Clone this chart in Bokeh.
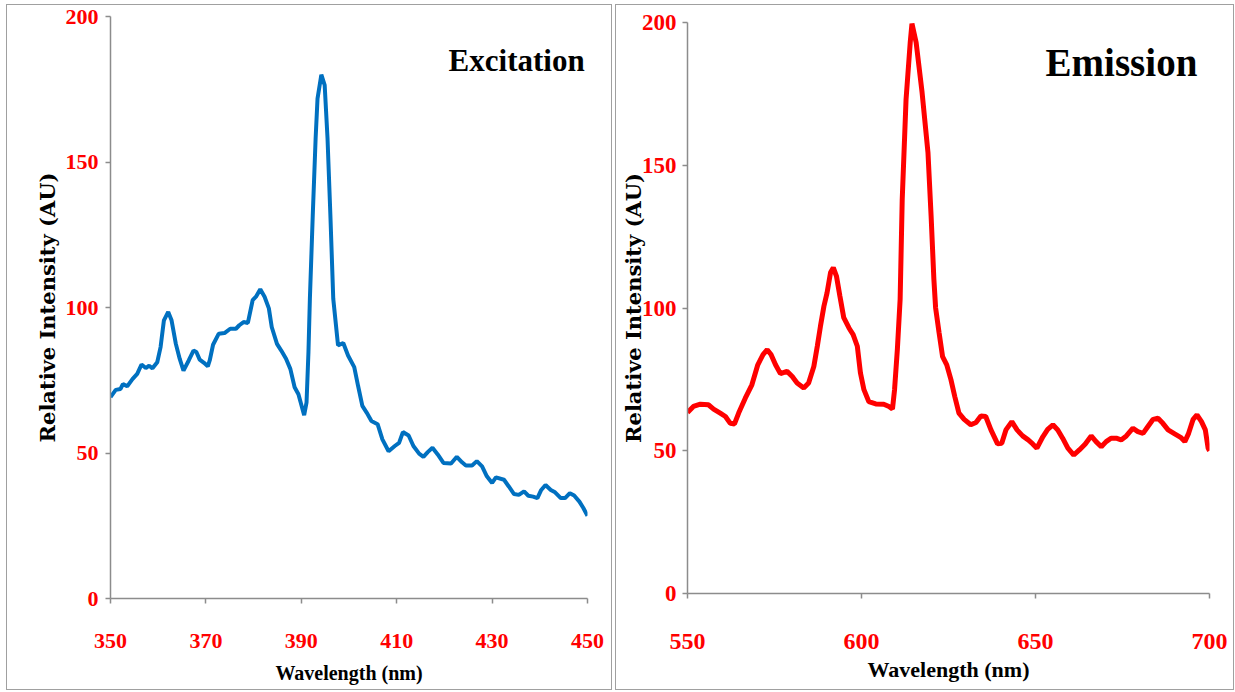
from bokeh.plotting import figure
from bokeh.layouts import row, column, Spacer
from bokeh.models import Range1d, Label, FixedTicker
from bokeh.embed import file_html
from bokeh.resources import INLINE

# ---------------- data ----------------
exc_wl = [350.0, 351.1, 352.1, 352.6, 353.5, 354.6, 355.6, 356.5, 357.4, 358.1, 358.8, 359.8,
          360.5, 361.2, 362.1, 362.8, 363.7, 364.5, 365.3, 366.4, 367.4, 368.0, 368.7, 369.6,
          370.4, 370.8, 371.5, 372.7, 373.9, 375.1, 376.3, 377.0, 377.9, 378.8, 379.8, 380.5,
          381.4, 382.3, 383.2, 383.8, 384.9, 385.8, 386.8, 387.7, 388.6, 389.4, 390.6, 391.1,
          391.5, 391.8, 392.4, 393.0, 393.4, 394.2, 394.9, 395.5, 396.1, 396.7, 397.7, 398.8,
          399.8, 401.1, 401.9, 402.8, 403.7, 404.7, 406.0, 407.0, 408.3, 409.6, 410.5, 411.3,
          412.5, 413.5, 414.7, 415.6, 416.5, 417.5, 418.6, 419.8, 421.4, 422.6, 423.7, 424.5,
          425.8, 426.8, 427.9, 428.9, 430.0, 430.8, 432.5, 433.5, 434.6, 435.6, 436.7, 437.6,
          438.6, 439.5, 440.3, 441.2, 442.3, 443.2, 444.4, 445.3, 446.3, 447.2, 448.3, 449.1,
          450.0]
exc_int = [69.2, 71.7, 72.0, 73.7, 72.9, 75.4, 77.2, 80.4, 79.2, 80.0, 79.1, 81.2,
           86.4, 95.6, 98.5, 95.6, 87.5, 82.4, 78.3, 81.8, 85.2, 84.7, 82.1, 81.0,
           79.8, 81.8, 87.2, 91.0, 91.2, 92.7, 92.7, 93.9, 95.0, 94.7, 102.5, 103.7,
           106.3, 103.7, 99.7, 93.3, 87.5, 85.2, 82.4, 78.9, 72.6, 70.2, 63.0, 67.4,
           84.7, 103.0, 131.6, 158.0, 171.8, 180.0, 176.4, 158.0, 131.6, 103.0, 87.0, 87.8,
           83.5, 79.5, 73.1, 66.2, 63.9, 61.0, 59.9, 54.7, 50.6, 52.4, 53.5, 57.2,
           56.0, 52.4, 49.8, 48.7, 50.3, 51.8, 49.5, 46.6, 46.4, 48.7, 46.8, 45.7,
           45.7, 47.2, 45.4, 42.0, 39.7, 41.6, 40.8, 38.5, 35.9, 35.6, 36.8, 35.3,
           35.0, 34.5, 37.3, 39.0, 37.3, 36.5, 34.5, 34.5, 36.2, 35.4, 33.3, 31.2,
           28.4]

em_wl = [550.0, 551.7, 553.7, 556.0, 557.5, 559.4, 560.9, 562.3, 563.5, 564.7, 566.6, 568.5,
         570.2, 571.7, 572.9, 574.0, 575.3, 576.7, 578.6, 580.1, 581.5, 583.4, 584.8, 586.3,
         587.3, 588.2, 589.2, 590.1, 591.1, 591.9, 592.8, 593.8, 594.9, 596.4, 597.6, 598.8,
         599.7, 600.7, 602.1, 604.1, 606.4, 607.9, 608.9, 609.5, 610.3, 611.1, 611.7, 612.8,
         614.0, 614.5, 615.7, 617.4, 619.1, 620.0, 620.8, 621.3, 622.3, 623.3, 624.5, 625.7,
         626.8, 628.0, 629.5, 631.4, 632.9, 634.3, 635.7, 637.2, 639.1, 640.3, 641.5, 643.2,
         644.7, 646.3, 647.9, 649.2, 650.4, 652.1, 653.5, 655.0, 656.4, 657.8, 659.3, 661.0,
         662.6, 664.3, 666.0, 667.4, 668.9, 670.3, 671.7, 673.2, 674.6, 676.1, 678.0, 679.4,
         680.9, 682.3, 683.8, 685.2, 686.6, 688.1, 690.0, 691.7, 692.9, 694.0, 695.3, 696.4,
         697.7, 698.8, 699.6, 700.0]
em_int = [63.4, 65.5, 66.3, 66.1, 64.6, 63.2, 62.0, 59.6, 59.4, 63.2, 68.4, 73.1,
          80.1, 83.7, 85.4, 83.7, 80.1, 77.0, 77.8, 76.0, 73.7, 72.0, 73.7, 79.5,
          86.6, 93.6, 100.6, 105.3, 112.4, 114.1, 111.2, 104.1, 96.6, 93.0, 90.7, 86.6,
          77.2, 71.4, 67.2, 66.4, 66.3, 65.5, 64.6, 71.4, 85.4, 103.0, 138.0, 173.0,
          193.0, 199.6, 193.0, 175.6, 154.5, 132.3, 110.0, 100.0, 91.3, 83.0, 80.1, 74.9,
          69.0, 63.2, 61.0, 59.1, 59.9, 62.2, 62.0, 57.3, 52.4, 52.6, 57.3, 60.2,
          57.3, 55.2, 53.8, 52.4, 50.9, 54.9, 57.5, 59.1, 57.3, 54.4, 50.9, 48.5,
          50.3, 52.4, 55.2, 53.2, 51.4, 53.2, 54.4, 54.4, 53.8, 55.2, 57.9, 56.7,
          56.1, 58.5, 61.0, 61.4, 59.6, 57.3, 55.9, 54.7, 53.2, 56.1, 61.0, 62.6,
          60.2, 57.3, 50.9, 50.0]

exc_xticks = [350, 370, 390, 410, 430, 450]
em_xticks = [550, 600, 650, 700]
y_ticks = [0, 50, 100, 150, 200]

SERIF = "Liberation Serif"
AXIS_GRAY = "#8c8c8c"


def style(p, xticks, xtick_size, ytick_size, xlab_standoff, xtitle_size, xtitle_standoff,
          ytick_standoff, ylabel_standoff):
    p.xgrid.visible = False
    p.ygrid.visible = False
    p.outline_line_color = None
    p.xaxis.ticker = FixedTicker(ticks=xticks)
    p.yaxis.ticker = FixedTicker(ticks=y_ticks)
    for ax in (p.xaxis[0], p.yaxis[0]):
        ax.axis_line_color = AXIS_GRAY
        ax.axis_line_width = 1.5
        ax.major_tick_line_color = AXIS_GRAY
        ax.major_tick_line_width = 1.5
        ax.major_tick_in = 0
        ax.major_tick_out = 5
        ax.minor_tick_line_color = None
        ax.major_label_text_color = "#ff0000"
        ax.major_label_text_font = SERIF
        ax.major_label_text_font_style = "bold"
    p.xaxis.major_label_text_font_size = xtick_size
    p.yaxis.major_label_text_font_size = ytick_size
    p.xaxis.major_label_standoff = xlab_standoff
    p.yaxis.major_label_standoff = ytick_standoff
    p.xaxis.axis_label = "Wavelength (nm)"
    p.xaxis.axis_label_text_font = SERIF
    p.xaxis.axis_label_text_font_style = "bold"
    p.xaxis.axis_label_text_font_size = xtitle_size
    p.xaxis.axis_label_text_color = "#000000"
    p.xaxis.axis_label_standoff = xtitle_standoff
    p.yaxis.axis_label = "Relative Intensity (AU)"
    p.yaxis.axis_label_text_font = "DejaVu Serif"
    p.yaxis.axis_label_text_font_style = "bold"
    p.yaxis.axis_label_text_font_size = "21px"
    p.yaxis.axis_label_text_color = "#000000"
    p.yaxis.axis_label_standoff = ylabel_standoff


# ---------------- left: excitation ----------------
p1 = figure(frame_width=475, frame_height=580, output_backend="svg", toolbar_location=None,
            x_range=Range1d(350, 450), y_range=Range1d(0, 200),
            min_border_left=103, min_border_right=26, min_border_top=11, min_border_bottom=93)
p1.line(exc_wl, exc_int, line_color="#0070c0", line_width=4)
style(p1, exc_xticks, "22px", "22px", 30, "20px", 11, 7, 3)
p1.add_layout(Label(x=449.4, y=185, text="Excitation", text_align="right", text_baseline="middle",
                    text_font=SERIF, text_font_style="bold", text_font_size="31px",
                    text_color="#000000"))
p1.styles = {"border": "1px solid #a0a0a0"}

# ---------------- right: emission ----------------
p2 = figure(frame_width=520, frame_height=569, output_backend="svg", toolbar_location=None,
            x_range=Range1d(550, 700), y_range=Range1d(0, 200),
            min_border_left=71, min_border_right=26, min_border_top=17, min_border_bottom=98)
p2.line(em_wl, em_int, line_color="#ff0000", line_width=5)
style(p2, em_xticks, "24px", "23px", 35, "22px", 5, 6, -7)
p2.add_layout(Label(x=696.5, y=186, text="Emission", text_align="right", text_baseline="middle",
                    text_font=SERIF, text_font_style="bold", text_font_size="39px",
                    text_color="#000000"))
p2.styles = {"border": "1px solid #a0a0a0"}

left = column(Spacer(height=4), p1, spacing=0)
right = column(Spacer(height=4), p2, spacing=0)
layout = row(Spacer(width=6), left, Spacer(width=3), right, spacing=0)
open("out.html", "w").write(file_html(layout, INLINE))
